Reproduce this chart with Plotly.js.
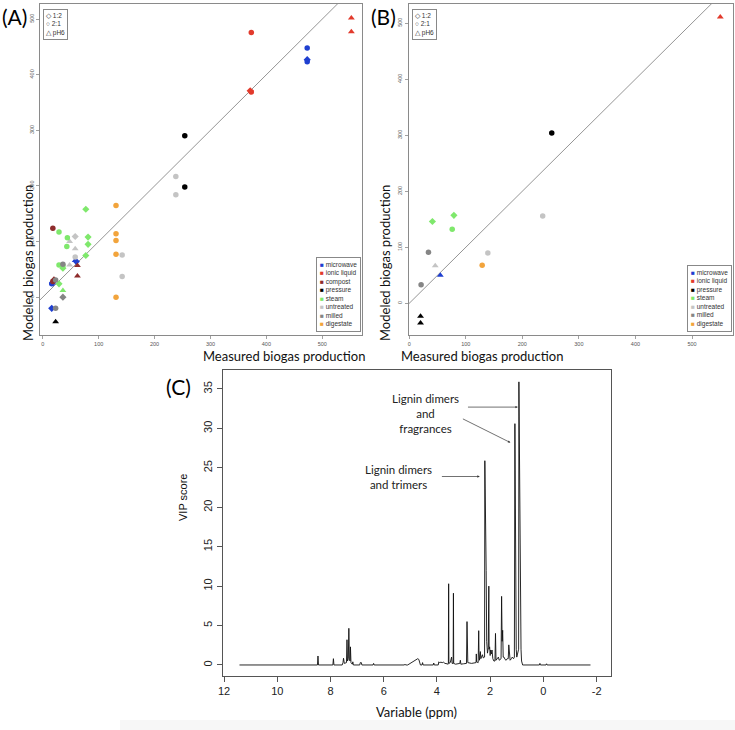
<!DOCTYPE html>
<html>
<head>
<meta charset="utf-8">
<script src="https://cdn.plot.ly/plotly-3.0.1.min.js"></script>
<style>
  body { margin: 0; background: #fff; }
  #fig { width: 735px; height: 730px; }
</style>
</head>
<body>
<div id="fig"></div>
<script>
// panel A : measured vs modeled biogas (all samples)
var aTreatment = ["ionic liquid","ionic liquid","ionic liquid","ionic liquid","ionic liquid",
  "microwave","microwave","microwave","microwave","microwave","microwave","microwave","microwave",
  "pressure","pressure","pressure",
  "untreated","untreated","untreated","untreated","untreated","untreated","untreated","untreated","untreated",
  "digestate","digestate","digestate","digestate","digestate",
  "steam","steam","steam","steam","steam","steam","steam","steam","steam","steam","steam","steam",
  "compost","compost","compost","compost","compost",
  "milled","milled","milled","milled"];
var aMeasured = [552,552,373,373,371,
  473,473,473,16,18,16,58,60,
  254,254,23,
  238,238,142,142,48,48,58,58,58,
  131,131,131,131,131,
  77,81,81,77,44,43,29,29,36,36,29,36,
  18,20,18,62,62,
  23,23,36,36];
var aModeled = [502,477,476,369,371,
  448,427,423,24,26,-20,66,64,
  290,198,-44,
  217,184,76,37,100,58,109,87,72,
  165,114,102,77,0,
  158,108,95,75,107,91,117,58,56,52,24,12,
  124,31,28,57,38,
  -20,31,0,59];
var aRatio = ["pH6","pH6","2:1","2:1","1:2",
  "2:1","1:2","2:1","2:1","1:2","1:2","pH6","1:2",
  "2:1","2:1","pH6",
  "2:1","2:1","2:1","2:1","pH6","pH6","1:2","pH6","2:1",
  "2:1","2:1","2:1","2:1","2:1",
  "1:2","1:2","1:2","1:2","2:1","2:1","2:1","2:1","2:1","1:2","1:2","pH6",
  "2:1","1:2","2:1","pH6","pH6",
  "2:1","2:1","1:2","2:1"];

// panel B : validation samples
var bTreatment = ["ionic liquid","pressure","pressure","pressure","steam","steam","steam",
  "untreated","untreated","untreated","digestate","milled","milled","microwave"];
var bMeasured = [550,252,20,20,41,79,76,236,139,46,129,34,21,55];
var bModeled = [511,304,-23,-35,146,157,132,156,90,67,68,91,33,50];
var bRatio = ["pH6","2:1","pH6","pH6","1:2","1:2","2:1","2:1","2:1","pH6","2:1","2:1","2:1","pH6"];

// legends
var legendA = ["microwave","ionic liquid","compost","pressure","steam","untreated","milled","digestate"];
var legendB = ["microwave","ionic liquid","pressure","steam","untreated","milled","digestate"];
var ratioLabels = ["1:2","2:1","pH6"];

// panel C : VIP scores along the NMR spectrum
var vipPpm = [11.42,8.49,8.47,8.45,
  7.91,7.89,7.87,
  7.56,7.53,7.51,7.48,7.40,7.38,7.36,7.33,7.31,7.29,7.26,7.25,7.23,7.18,7.16,7.14,
  6.90,6.88,6.86,6.84,6.82,
  6.40,6.38,6.36,
  5.22,5.20,5.18,
  5.10,4.72,4.68,4.62,
  4.56,4.54,4.52,
  4.14,4.12,4.10,
  3.95,3.93,3.90,3.85,3.80,3.75,3.70,3.62,3.58,
  3.57,3.56,3.55,3.50,3.45,3.43,
  3.39,3.38,3.37,3.30,3.20,3.14,3.12,3.10,3.00,
  2.89,2.87,2.86,2.84,2.70,2.60,
  2.53,2.52,2.51,2.45,2.43,2.42,2.40,2.37,2.35,2.29,2.26,
  2.21,2.20,2.19,2.17,2.15,2.13,2.10,2.07,2.05,2.04,2.02,2.00,1.98,1.95,1.93,1.90,1.86,
  1.82,1.80,1.78,1.72,1.69,1.66,
  1.59,1.57,1.55,1.53,1.51,1.48,1.44,1.40,1.36,
  1.32,1.30,1.28,1.25,1.20,1.17,1.12,
  1.09,1.07,1.06,1.04,1.02,1.00,0.97,
  0.93,0.92,0.91,0.90,0.89,0.88,0.87,0.86,0.84,0.82,0.80,0.78,
  0.15,0.13,0.11,
  -0.10,-0.12,-0.14,
  -1.77];
var vipScore = [0,0,1.14,0,
  0,0.8,0,
  0,0.3,0.85,0.2,0.3,3.2,0.5,0.8,4.65,0.6,0.5,2.3,0.3,0.1,0.4,0,
  0,0.3,0.35,0.3,0,
  0,0.2,0,
  0,0.1,0,
  0,0.8,0.7,0,
  0,0.3,0,
  0,0.25,0,
  0,0.4,0.3,0.35,0.3,0.35,0.2,0.15,0.1,
  0.2,10.3,0.2,0.3,1.0,0.2,
  0.2,9.1,0.2,0.1,0.15,0.2,0.6,0.1,0.15,
  0.2,5.5,1.0,0.3,0.2,0.3,
  0.3,1.4,0.4,0.3,4.35,1.6,0.6,1.7,0.8,1.3,0.9,
  1.0,25.9,20,22.6,12,3.0,1.5,2.2,10,2.0,2.3,1.2,1.9,1.4,1.9,0.8,0.5,
  0.5,4.0,0.6,0.8,1.0,0.6,
  0.8,8.7,3.0,4.4,1.0,1.0,0.7,0.6,0.8,
  0.8,2.55,1.5,0.6,0.8,1.0,0.8,
  1.0,30.6,20,14.6,2.0,1.0,1.5,
  2.0,35.9,30,26.2,20,12.0,10.6,10.6,2.0,0.5,0.2,0,
  0,0.2,0,
  0,0.15,0,
  0];

var colors = {
  "microwave": "#1f3fd0",
  "ionic liquid": "#e23a2c",
  "compost": "#8e2c2c",
  "pressure": "#000000",
  "steam": "#7fe86c",
  "untreated": "#c4c4c4",
  "milled": "#858585",
  "digestate": "#f2a43c"
};
var symbols = {"1:2": "diamond", "2:1": "circle", "pH6": "triangle-up"};
var sizes = {"1:2": 5.5, "2:1": 5.5, "pH6": 6};

var traces = [];

function addPoints(treat, meas, mod, ratio, xa, ya) {
  traces.push({
    x: meas, y: mod, xaxis: xa, yaxis: ya,
    type: "scatter", mode: "markers", showlegend: false, hoverinfo: "skip",
    marker: {
      color: treat.map(function (t) { return colors[t]; }),
      symbol: ratio.map(function (r) { return symbols[r]; }),
      size: ratio.map(function (r) { return sizes[r]; }),
      opacity: 1,
      line: {width: 0}
    }
  });
}

// 1:1 lines
traces.push({x: [-20, 600], y: [-20, 600], xaxis: "x", yaxis: "y", type: "scatter", mode: "lines",
  line: {color: "#7a7a7a", width: 0.8}, showlegend: false, hoverinfo: "skip"});
traces.push({x: [-20, 600], y: [-20, 600], xaxis: "x2", yaxis: "y2", type: "scatter", mode: "lines",
  line: {color: "#7a7a7a", width: 0.8}, showlegend: false, hoverinfo: "skip"});

addPoints(aTreatment, aMeasured, aModeled, aRatio, "x", "y");
addPoints(bTreatment, bMeasured, bModeled, bRatio, "x2", "y2");

traces.push({x: vipPpm, y: vipScore, xaxis: "x3", yaxis: "y3", type: "scatter", mode: "lines",
  line: {color: "#111", width: 0.9}, showlegend: false, hoverinfo: "skip"});

var tickFontSmall = {family: "Liberation Sans, Arial", size: 5.5, color: "#555"};
function scatterAxes(xdom, xr, ydom, yr) {
  return [{
    domain: xdom, range: xr, tickvals: [0, 100, 200, 300, 400, 500],
    showline: true, mirror: true, linecolor: "#8a8a8a", linewidth: 1,
    ticks: "outside", ticklen: 3, tickcolor: "#8a8a8a", tickwidth: 0.8,
    showgrid: false, zeroline: false, tickfont: tickFontSmall
  }, {
    domain: ydom, range: yr, tickvals: [0, 100, 200, 300, 400, 500],
    showline: true, mirror: true, linecolor: "#8a8a8a", linewidth: 1,
    ticks: "outside", ticklen: 3, tickcolor: "#8a8a8a", tickwidth: 0.8,
    showgrid: false, zeroline: false, tickfont: tickFontSmall, tickangle: -90
  }];
}
var axA = scatterAxes([0.0544, 0.4925], [-5, 571], [0.5411, 0.9945], [-68, 527]);
var axB = scatterAxes([0.556, 0.9969], [-1, 572], [0.5411, 0.9945], [-56.5, 534]);

var labelFont = {family: "Lato, Open Sans, sans-serif", size: 13, color: "#111"};

function colorLegend(items) {
  return items.map(function (t) {
    return '<span style="color:' + colors[t] + '">■</span> ' + t;
  }).join("<br>");
}
var ratioText = ratioLabels.map(function (r) {
  return {"1:2": "◇", "2:1": "○", "pH6": "△"}[r] + " " + r;
}).join("<br>");

var legendFont = {family: "Liberation Sans, Arial", size: 6.5, color: "#333"};

var annotations = [
  // panel letters
  {text: "(A)", x: 0, y: 1 - 16 / 730, xref: "paper", yref: "paper", xanchor: "left", yanchor: "middle",
    showarrow: false, font: {family: "Lato, sans-serif", size: 21, color: "#000"}},
  {text: "(B)", x: 369 / 735, y: 1 - 16 / 730, xref: "paper", yref: "paper", xanchor: "left", yanchor: "middle",
    showarrow: false, font: {family: "Lato, sans-serif", size: 21, color: "#000"}},
  {text: "(C)", x: 164 / 735, y: 1 - 386 / 730, xref: "paper", yref: "paper", xanchor: "left", yanchor: "middle",
    showarrow: false, font: {family: "Lato, sans-serif", size: 21, color: "#000"}},
  // axis titles
  {text: "Modeled biogas production", x: 18 / 735, y: 1 - 183 / 730, xref: "paper", yref: "paper",
    textangle: -90, showarrow: false, font: labelFont},
  {text: "Measured biogas production", x: 201 / 735, y: 1 - 356 / 730, xref: "paper", yref: "paper",
    showarrow: false, font: labelFont},
  {text: "Modeled biogas production", x: 385 / 735, y: 1 - 183 / 730, xref: "paper", yref: "paper",
    textangle: -90, showarrow: false, font: labelFont},
  {text: "Measured biogas production", x: 565 / 735, y: 1 - 356 / 730, xref: "paper", yref: "paper",
    showarrow: false, font: labelFont},
  {text: "VIP score", x: 175 / 735, y: 1 - 523 / 730, xref: "paper", yref: "paper",
    textangle: -90, showarrow: false, font: {family: "Liberation Sans, Arial", size: 11, color: "#111"}},
  {text: "Variable (ppm)", x: 416 / 735, y: 1 - 722 / 730, xref: "paper", yref: "paper",
    showarrow: false, font: labelFont},
  // legends
  {text: ratioText, x: 43 / 735, y: 1 - 9 / 730, xref: "paper", yref: "paper", xanchor: "left", yanchor: "top",
    align: "left", showarrow: false, font: legendFont, bordercolor: "#888", borderwidth: 1, borderpad: 2, bgcolor: "#fff"},
  {text: colorLegend(legendA), x: 360.5 / 735, y: 1 - 332.5 / 730, xref: "paper", yref: "paper",
    xanchor: "right", yanchor: "bottom", align: "left", showarrow: false, font: legendFont,
    bordercolor: "#888", borderwidth: 1, borderpad: 3, bgcolor: "#fff"},
  {text: ratioText, x: 412 / 735, y: 1 - 9 / 730, xref: "paper", yref: "paper", xanchor: "left", yanchor: "top",
    align: "left", showarrow: false, font: legendFont, bordercolor: "#888", borderwidth: 1, borderpad: 2, bgcolor: "#fff"},
  {text: colorLegend(legendB), x: 731.5 / 735, y: 1 - 332 / 730, xref: "paper", yref: "paper",
    xanchor: "right", yanchor: "bottom", align: "left", showarrow: false, font: legendFont,
    bordercolor: "#888", borderwidth: 1, borderpad: 3, bgcolor: "#fff"},
  // panel C notes
  {text: "Lignin dimers<br>and trimers", x: 5.43, y: 23.9, xref: "x3", yref: "y3", showarrow: false,
    font: {family: "Lato, sans-serif", size: 11.5, color: "#222"}},
  {text: "Lignin dimers<br>and<br>fragrances", x: 4.43, y: 31.9, xref: "x3", yref: "y3", showarrow: false,
    font: {family: "Lato, sans-serif", size: 11.5, color: "#222"}},
  {text: "", x: 2.39, y: 23.9, ax: 3.87, ay: 23.9, xref: "x3", yref: "y3", axref: "x3", ayref: "y3",
    showarrow: true, arrowhead: 2, arrowsize: 0.7, arrowwidth: 0.7, arrowcolor: "#333"},
  {text: "", x: 0.96, y: 32.7, ax: 2.89, ay: 32.7, xref: "x3", yref: "y3", axref: "x3", ayref: "y3",
    showarrow: true, arrowhead: 2, arrowsize: 0.7, arrowwidth: 0.7, arrowcolor: "#333"},
  {text: "", x: 1.24, y: 28.2, ax: 3.08, ay: 31.3, xref: "x3", yref: "y3", axref: "x3", ayref: "y3",
    showarrow: true, arrowhead: 2, arrowsize: 0.7, arrowwidth: 0.7, arrowcolor: "#333"}
];

var layout = {
  width: 735, height: 730,
  margin: {l: 0, r: 0, t: 0, b: 0},
  paper_bgcolor: "#fff", plot_bgcolor: "#fff",
  showlegend: false,
  xaxis: axA[0], yaxis: axA[1],
  xaxis2: Object.assign(axB[0], {anchor: "y2"}), yaxis2: Object.assign(axB[1], {anchor: "x2"}),
  xaxis3: {
    domain: [0.303, 0.8309], range: [12.05, -2.53], anchor: "y3",
    tickvals: [12, 10, 8, 6, 4, 2, 0, -2], ticktext: ["12", "10", "8", "6", "4", "2", "0", "-2"],
    showline: true, mirror: true, linecolor: "#555", linewidth: 1,
    ticks: "outside", ticklen: 5, tickcolor: "#555", showgrid: false, zeroline: false,
    tickfont: {family: "Liberation Sans, Arial", size: 11, color: "#222"}
  },
  yaxis3: {
    domain: [0.074, 0.4932], range: [-1.395, 37.41], anchor: "x3",
    tickvals: [0, 5, 10, 15, 20, 25, 30, 35],
    showline: true, mirror: true, linecolor: "#555", linewidth: 1,
    ticks: "outside", ticklen: 5, tickcolor: "#555", showgrid: false, zeroline: false,
    tickangle: -90, tickfont: {family: "Liberation Sans, Arial", size: 11, color: "#222"}
  },
  shapes: [
    {type: "rect", xref: "paper", yref: "paper", x0: 120 / 735, x1: 1, y0: 0, y1: 10 / 730,
      fillcolor: "#f7f7f7", line: {width: 0}, layer: "below"}
  ],
  annotations: annotations
};

Plotly.newPlot("fig", traces, layout, {displayModeBar: false, staticPlot: true});
</script>
</body>
</html>
